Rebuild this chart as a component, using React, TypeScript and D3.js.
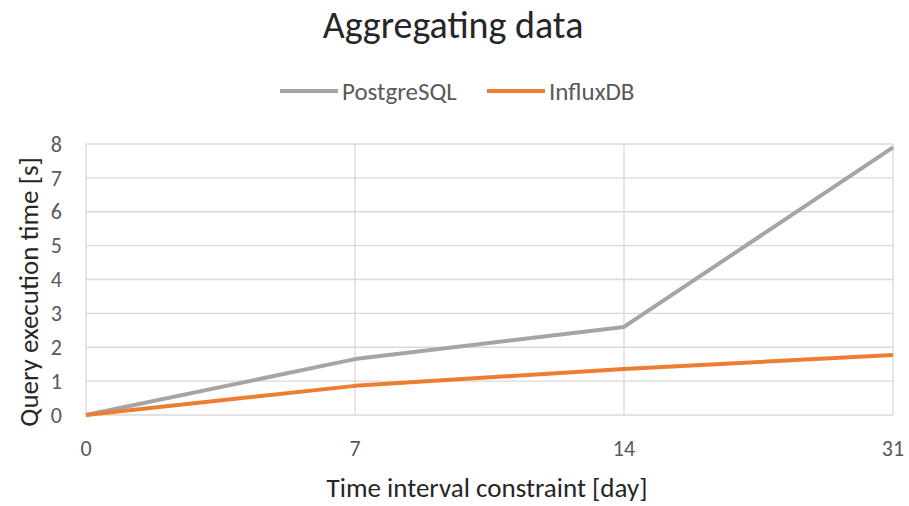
import React, { useEffect, useRef } from 'react';
import * as d3 from 'd3';

const width = 909;
const height = 506;
const margin = { top: 144, right: 16, bottom: 91, left: 86 };

const categories = ['0', '7', '14', '31'];
const postgres = [0, 1.65, 2.6, 7.9];
const influx = [0, 0.86, 1.36, 1.77];
const yTicks = [0, 1, 2, 3, 4, 5, 6, 7, 8];

const series = [
  { name: 'PostgreSQL', values: postgres, color: '#A5A5A5' },
  { name: 'InfluxDB', values: influx, color: '#ED7D31' },
];

const font = 'Calibri, Carlito, Lato, sans-serif';

export default function App() {
  const ref = useRef<SVGSVGElement>(null);

  useEffect(() => {
    const svg = d3.select(ref.current);
    svg.selectAll('*').remove();

    const x = d3.scalePoint().domain(categories).range([margin.left, width - margin.right]);
    const y = d3.scaleLinear().domain([0, 8]).range([height - margin.bottom, margin.top]);

    // grid
    svg.append('g').selectAll('line').data(yTicks).join('line')
      .attr('x1', margin.left).attr('x2', width - margin.right)
      .attr('y1', d => y(d)).attr('y2', d => y(d))
      .attr('stroke', '#D9D9D9').attr('stroke-width', 1.3);
    svg.append('g').selectAll('line').data(categories).join('line')
      .attr('x1', d => x(d)!).attr('x2', d => x(d)!)
      .attr('y1', y(0)).attr('y2', y(8))
      .attr('stroke', '#D9D9D9').attr('stroke-width', 1.3);

    // tick labels
    svg.append('g').selectAll('text').data(yTicks).join('text')
      .attr('x', 62).attr('y', d => y(d)).attr('dy', '0.35em')
      .attr('text-anchor', 'end').attr('fill', '#595959')
      .style('font', `22px ${font}`).text(d => d);
    svg.append('g').selectAll('text').data(categories).join('text')
      .attr('x', d => x(d)!).attr('y', 448).attr('dy', '0.35em')
      .attr('text-anchor', 'middle').attr('fill', '#595959')
      .style('font', `22px ${font}`).text(d => d);

    // lines
    const line = d3.line<number>()
      .x((d, i) => x(categories[i])!)
      .y(d => y(d));
    svg.append('g').selectAll('path').data(series).join('path')
      .attr('d', d => line(d.values))
      .attr('fill', 'none')
      .attr('stroke', d => d.color)
      .attr('stroke-width', 4)
      .attr('stroke-linejoin', 'round');

    // title
    svg.append('text').attr('x', 453).attr('y', 38)
      .attr('text-anchor', 'middle').attr('fill', '#262626')
      .style('font', `38px ${font}`).text('Aggregating data');

    // legend
    const legendX = [280, 487];
    const lg = svg.append('g').selectAll('g').data(series).join('g')
      .attr('transform', (d, i) => `translate(${legendX[i]},91)`);
    lg.append('line').attr('x1', 0).attr('x2', 58)
      .attr('stroke', d => d.color).attr('stroke-width', 4);
    lg.append('text').attr('x', 62).attr('dy', '0.35em')
      .attr('fill', '#595959').style('font', `25px ${font}`).text(d => d.name);

    // axis titles
    svg.append('text').attr('x', 487).attr('y', 488).attr('dy', '0.35em')
      .attr('text-anchor', 'middle').attr('fill', '#262626')
      .style('font', `27px ${font}`).text('Time interval constraint [day]');
    svg.append('text').attr('transform', 'translate(29,292) rotate(-90)').attr('dy', '0.35em')
      .attr('text-anchor', 'middle').attr('fill', '#262626')
      .style('font', `27px ${font}`).text('Query execution time [s]');
  }, []);

  return (
    <svg ref={ref} width={width} height={height}
      style={{ position: 'absolute', left: 0, top: 0, background: '#fff' }} />
  );
}
